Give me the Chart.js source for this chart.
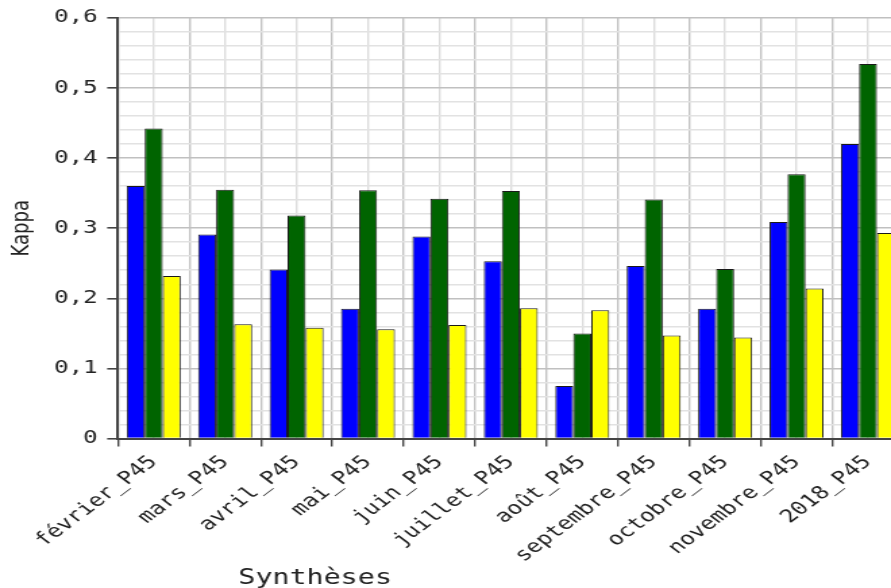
<!DOCTYPE html>
<html>
<head>
<meta charset="utf-8">
<script src="https://cdn.jsdelivr.net/npm/chart.js@4.4.1/dist/chart.umd.min.js"></script>
<style>
  html, body { margin: 0; padding: 0; background: #fff; overflow: hidden; width: 891px; height: 588px; }
  /* the reference is stretched horizontally, so draw narrow and widen it */
  #wrap { width: 680px; height: 588px; transform: scaleX(1.35); transform-origin: 0 0; }
</style>
</head>
<body>
<div id="wrap"><canvas id="myChart" width="680" height="588"></canvas></div>
<script>
const categories = [
    'février_P45', 'mars_P45', 'avril_P45', 'mai_P45', 'juin_P45', 'juillet_P45',
    'août_P45', 'septembre_P45', 'octobre_P45', 'novembre_P45', '2018_P45'
];
const blueValues   = [0.360, 0.291, 0.241, 0.185, 0.288, 0.253, 0.075, 0.246, 0.185, 0.309, 0.420];
const greenValues  = [0.442, 0.355, 0.318, 0.354, 0.342, 0.353, 0.150, 0.341, 0.242, 0.377, 0.534];
const yellowValues = [0.232, 0.163, 0.158, 0.156, 0.162, 0.186, 0.183, 0.147, 0.144, 0.214, 0.293];
const yTickLabels = ['0', '0,1', '0,2', '0,3', '0,4', '0,5', '0,6'];

const xTitle = 'Synthèses';
const yTitle = 'Kappa';

// x axis title sits left of centre in the reference, so draw it by hand
const xTitlePlugin = {
    id: 'xTitle',
    afterDraw(chart) {
        const ctx = chart.ctx;
        ctx.save();
        ctx.font = '21px "DejaVu Sans Mono"';
        ctx.fillStyle = '#222';
        ctx.textAlign = 'center';
        ctx.textBaseline = 'alphabetic';
        ctx.fillText(xTitle, chart.chartArea.left + 146, 584);
        ctx.restore();
    }
};

const data = {
    labels: categories,
    datasets: [
        { label: 'bleu', data: blueValues, backgroundColor: '#0000ff' },
        { label: 'vert', data: greenValues, backgroundColor: '#006400' },
        { label: 'jaune', data: yellowValues, backgroundColor: '#ffff00' }
    ].map(d => Object.assign(d, {
        borderColor: '#1a1a1a',
        borderWidth: 1,
        categoryPercentage: 0.756,
        barPercentage: 1.0
    }))
};

const config = {
    type: 'bar',
    data,
    plugins: [xTitlePlugin],
    options: {
        responsive: false,
        animation: false,
        layout: { padding: { top: 17, right: 10.6, left: 0, bottom: 0 } },
        plugins: {
            legend: { display: false },
            tooltip: { enabled: false }
        },
        scales: {
            x: {
                type: 'category',
                offset: true,
                grid: {
                    offset: true,
                    color: '#c2c2c2',
                    lineWidth: 1.4,
                    tickLength: 8,
                    tickColor: '#444'
                },
                border: { color: '#444', width: 2 },
                ticks: {
                    font: { family: 'DejaVu Sans Mono', size: 18 },
                    color: '#222',
                    minRotation: 45,
                    maxRotation: 45,
                    autoSkip: false,
                    padding: 5
                },
                afterFit: s => { s.height = 149.4; }
            },
            x2: {
                type: 'category',
                labels: categories,
                position: 'bottom',
                offset: true,
                grid: { offset: false, color: '#dcdcdc', lineWidth: 1.4, drawTicks: false },
                border: { display: false },
                ticks: { display: false },
                afterFit: s => { s.height = 0; }
            },
            y: {
                min: 0,
                max: 0.6,
                grid: {
                    color: c => c.index % 5 === 0 ? '#c0c0c0' : '#e2e2e2',
                    lineWidth: 1.6,
                    tickColor: c => c.index % 5 === 0 ? '#444' : 'rgba(0,0,0,0)',
                    tickLength: 8
                },
                border: { color: '#444', width: 2 },
                ticks: {
                    stepSize: 0.02,
                    autoSkip: false,
                    font: { family: 'DejaVu Sans Mono', size: 18 },
                    color: '#222',
                    padding: 7,
                    callback: (v, i) => i % 5 === 0 ? yTickLabels[i / 5] : ''
                },
                title: {
                    display: true,
                    text: yTitle,
                    font: { family: 'DejaVu Sans', size: 18 },
                    color: '#222',
                    padding: { top: 6, bottom: 0 }
                },
                afterFit: s => { s.width = 87.4; }
            }
        }
    }
};

var myChart = new Chart(document.getElementById('myChart'), config);
</script>
</body>
</html>
